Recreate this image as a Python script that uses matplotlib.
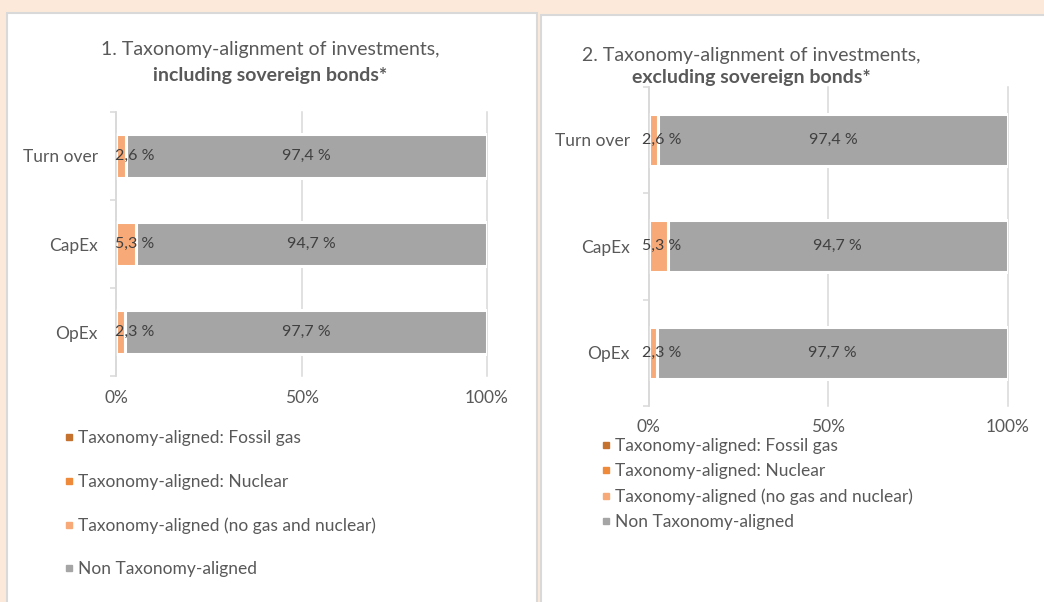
import matplotlib.pyplot as plt
from matplotlib.patches import Rectangle
from matplotlib.lines import Line2D

categories = ['Turn over', 'CapEx', 'OpEx']
series_names = ['Taxonomy-aligned: Fossil gas', 'Taxonomy-aligned: Nuclear',
                'Taxonomy-aligned (no gas and nuclear)', 'Non Taxonomy-aligned']
colors = ['#C5722F', '#EE8A3A', '#F7AA78', '#A5A5A5']

# chart 1: including sovereign bonds
incl_gas = [0.0, 0.0, 0.0]
incl_nuclear = [0.0, 0.0, 0.0]
incl_aligned = [2.6, 5.3, 2.3]
incl_non = [97.4, 94.7, 97.7]

# chart 2: excluding sovereign bonds
excl_gas = [0.0, 0.0, 0.0]
excl_nuclear = [0.0, 0.0, 0.0]
excl_aligned = [2.6, 5.3, 2.3]
excl_non = [97.4, 94.7, 97.7]

xticks = [0, 50, 100]
xtick_labels = ['0%', '50%', '100%']

W, H = 1044, 602
FONT = ['Lato', 'DejaVu Sans']
TXT = '#595959'
LINE = '#D9D9D9'

plt.rcParams['font.family'] = FONT


def px(x0, y0, x1, y1):
    # pixel box (top-left origin) -> figure fraction rect
    return [x0 / W, 1 - y1 / H, (x1 - x0) / W, (y1 - y0) / H]


def fmt(v):
    return f"{v:.1f}".replace('.', ',') + ' %'


def draw_chart(ax, series, small_dx, xpad):
    ypos = list(range(len(categories)))
    left = [0.0] * len(categories)
    for vals, col, name in zip(series, colors, series_names):
        ax.barh(ypos, vals, left=left, height=0.49, color=col,
                edgecolor='white', linewidth=2.2, label=name, zorder=2)
        left = [l + v for l, v in zip(left, vals)]

    aligned, non = series[2], series[3]
    for i in ypos:
        ax.annotate(fmt(aligned[i]), (0, i), xytext=(small_dx, 0),
                    textcoords='offset points', ha='left', va='center',
                    fontsize=11.5, color='#404040', zorder=3)
        ax.text(aligned[i] + non[i] / 2, i, fmt(non[i]), ha='center',
                va='center', fontsize=11.5, color='#404040', zorder=3)

    ax.set_xlim(0, 100)
    ax.set_ylim(len(categories) - 0.5, -0.5)
    ax.set_xticks(xticks)
    ax.set_xticklabels(xtick_labels)
    ax.tick_params(axis='x', length=0, labelsize=12.5, labelcolor=TXT, pad=xpad)
    ax.set_yticks([i - 0.5 for i in range(len(categories) + 1)])
    ax.set_yticklabels([])
    ax.set_yticks(ypos, minor=True)
    ax.set_yticklabels(categories, minor=True)
    ax.tick_params(axis='y', which='major', length=4.5, width=1.1, color=LINE)
    ax.tick_params(axis='y', which='minor', length=0, labelsize=12.5,
                   labelcolor=TXT, pad=13.5)
    ax.grid(axis='x', color=LINE, linewidth=1.1, zorder=0)
    ax.set_axisbelow(True)
    for gl in ax.get_xgridlines():
        gl.set_clip_on(False)
    for s in ['top', 'right', 'bottom']:
        ax.spines[s].set_visible(False)
    ax.spines['left'].set_color(LINE)
    ax.spines['left'].set_linewidth(1.1)
    ax.set_facecolor('none')


fig = plt.figure(figsize=(W / 100, H / 100), dpi=100)
fig.patch.set_facecolor('#FCE9DA')

# white panels, behind the axes
for x0, y0, x1, y1 in [(7, 13, 537, 640), (541, 15, 1080, 640)]:
    r = px(x0, y0, x1, y1)
    fig.patches.append(Rectangle((r[0], r[1]), r[2], r[3], transform=fig.transFigure,
                                 facecolor='white', edgecolor=LINE, linewidth=1.5,
                                 zorder=-5))

ax1 = fig.add_axes(px(116.4, 112, 487, 376))
draw_chart(ax1, [incl_gas, incl_nuclear, incl_aligned, incl_non], -1, 10)

ax2 = fig.add_axes(px(648.5, 86.7, 1008, 406))
draw_chart(ax2, [excl_gas, excl_nuclear, excl_aligned, excl_non], -4.5, 9.5)

# titles
fig.text(270 / W, 1 - 49 / H, '1. Taxonomy-alignment of investments,', ha='center',
         va='center', fontsize=14, color=TXT)
fig.text(270 / W, 1 - 75.5 / H, 'including sovereign bonds*', ha='center',
         va='center', fontsize=14, color=TXT, fontweight='bold')
fig.text(751 / W, 1 - 55 / H, '2. Taxonomy-alignment of investments,', ha='center',
         va='center', fontsize=14, color=TXT)
fig.text(751 / W, 1 - 78 / H, 'excluding sovereign bonds*', ha='center',
         va='center', fontsize=14, color=TXT, fontweight='bold')

# legends
handles = [Line2D([], [], linestyle='none', marker='s', markersize=4.5,
                  markerfacecolor=c, markeredgecolor=c) for c in colors]
fig.legend(handles, series_names, loc='upper left',
           bbox_to_anchor=(65 / W, 1 - 430.5 / H), frameon=False, fontsize=12.5,
           labelcolor=TXT, handlelength=0.5, handletextpad=0.25,
           labelspacing=1.57, borderpad=0, borderaxespad=0)
fig.legend(handles, series_names, loc='upper left',
           bbox_to_anchor=(601.5 / W, 1 - 438 / H), frameon=False, fontsize=12.5,
           labelcolor=TXT, handlelength=0.5, handletextpad=0.25,
           labelspacing=0.52, borderpad=0, borderaxespad=0)

fig.savefig('out.png', dpi=100, facecolor=fig.get_facecolor())
